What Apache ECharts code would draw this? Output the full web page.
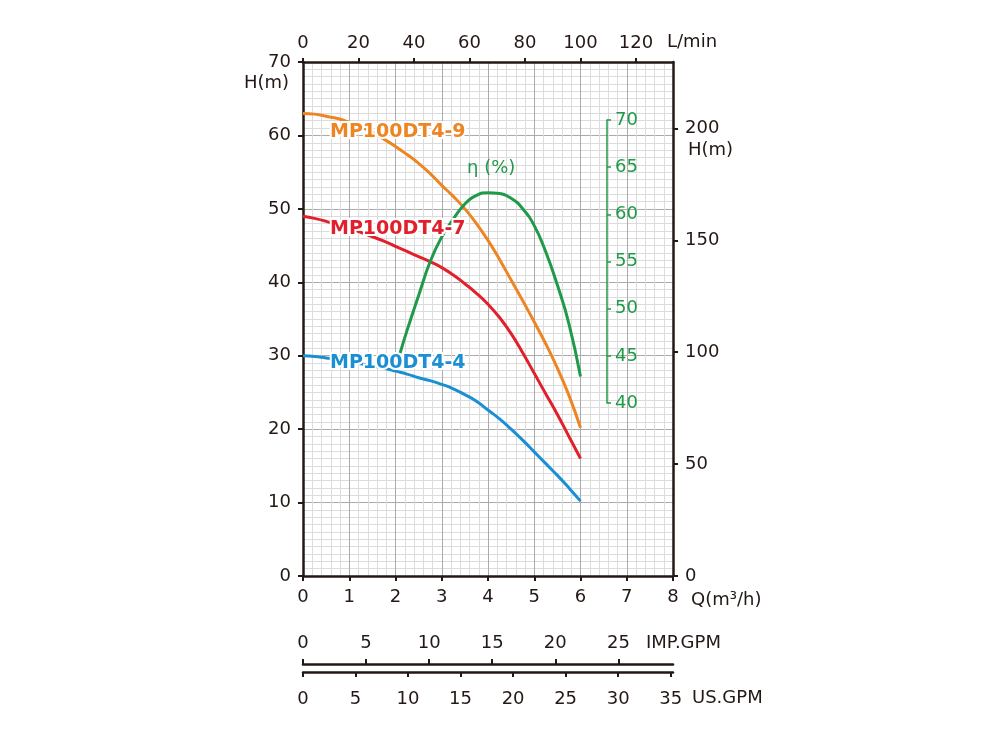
<!DOCTYPE html>
<html>
<head>
<meta charset="utf-8">
<script src="https://cdn.jsdelivr.net/npm/echarts@6/dist/echarts.min.js"></script>
<style>html,body{margin:0;background:#fff}#c{width:1000px;height:742px}</style>
</head>
<body>
<div id="c"></div>
<script>
// Q in m3/h, H in m, efficiency in %
const flow = [0, 0.25, 0.5, 0.75, 1, 1.25, 1.5, 1.75, 2, 2.25, 2.5, 2.75, 3, 3.25, 3.5, 3.75, 4, 4.25, 4.5, 4.75, 5, 5.25, 5.5, 5.75, 6]
const head9 = [63.0, 62.9, 62.6, 62.3, 61.8, 61.2, 60.4, 59.5, 58.5, 57.4, 56.2, 54.8, 53.2, 51.7, 50.0, 48.0, 45.7, 43.1, 40.3, 37.5, 34.6, 31.6, 28.3, 24.6, 20.2]
const head7 = [49.0, 48.7, 48.3, 47.8, 47.3, 46.8, 46.2, 45.6, 44.9, 44.2, 43.5, 42.8, 42.0, 41.0, 39.8, 38.5, 37.0, 35.2, 33.0, 30.4, 27.6, 24.8, 22.0, 19.0, 16.0]
const head4 = [30.0, 29.9, 29.7, 29.5, 29.2, 28.9, 28.6, 28.3, 27.9, 27.5, 27.0, 26.6, 26.1, 25.5, 24.7, 23.8, 22.6, 21.4, 20.0, 18.5, 16.9, 15.3, 13.7, 12.0, 10.2]
const effFlow = [2.1, 2.25, 2.5, 2.75, 3, 3.25, 3.5, 3.75, 4, 4.25, 4.5, 4.75, 5, 5.25, 5.5, 5.75, 6]
const effVal = [45.3, 47.7, 51.4, 55.0, 57.6, 59.5, 61.1, 62.0, 62.3, 62.2, 61.7, 60.6, 58.8, 56.0, 52.5, 48.4, 42.8]
const seriesNames = ["MP100DT4-9", "MP100DT4-7", "MP100DT4-4"]

const qMax = 8, hMax = 70
const lpmMax = qMax * 1000 / 60
const ftMax = hMax * 3.28084
const impMax = qMax / 0.272765
const usMax = qMax / 0.227125

const ink = "#231815", green = "#1f9a48"
const font = "DejaVu Sans"
const lab = { color: ink, fontSize: 18, fontFamily: font }
const pairs = (xs, ys) => xs.map((x, i) => [x, ys[i]])
const axLine = (color, width) => ({ show: true, onZero: false, lineStyle: { color, width } })
const axTick = (color, len) => ({ show: true, length: len, lineStyle: { color, width: 2 } })

const line = (name, data, color) => ({
  name, type: "line", data, smooth: 0.5, symbol: "none",
  xAxisIndex: 0, yAxisIndex: 0,
  lineStyle: { color, width: 3 }
})

const txt = (text, x, y, color, extra) => ({
  type: "text", x, y, z: 100,
  style: Object.assign({ text, fill: color, fontSize: 18, fontFamily: font, textAlign: "left", textVerticalAlign: "middle" }, extra || {})
})
const tag = (text, x, y, color) => txt(text, x, y, color, {
  fontSize: 19, fontWeight: "bold", stroke: "#fff", lineWidth: 4
})

const chart = echarts.init(document.getElementById("c"))
chart.setOption({
  animation: false,
  grid: [
    { left: 303, right: 327, top: 62, bottom: 166 },
    { left: 303, right: 327, top: 120, bottom: 339 },
    { left: 303, right: 327, top: 664, height: 1 },
    { left: 303, right: 327, top: 671, height: 1 }
  ],
  xAxis: [
    { gridIndex: 0, type: "value", position: "bottom", min: 0, max: qMax, interval: 1,
      axisLine: axLine(ink, 2.5), axisTick: axTick(ink, 5),
      axisLabel: Object.assign({ margin: 12 }, lab),
      splitLine: { show: true, lineStyle: { color: "#aaaaaa", width: 1 } },
      minorTick: { show: false, splitNumber: 5 },
      minorSplitLine: { show: true, lineStyle: { color: "#dcdcdc", width: 1 } } },
    { gridIndex: 0, type: "value", position: "top", min: 0, max: lpmMax, interval: 20,
      axisLine: axLine(ink, 2.5), axisTick: axTick(ink, 4),
      axisLabel: Object.assign({ margin: 10, showMaxLabel: false }, lab),
      splitLine: { show: false } },
    { gridIndex: 1, type: "value", min: 0, max: qMax, show: false },
    { gridIndex: 2, type: "value", position: "top", min: 0, max: impMax, interval: 5,
      axisLine: axLine(ink, 2.5), axisTick: axTick(ink, 5),
      axisLabel: Object.assign({ margin: 12, showMaxLabel: false }, lab),
      splitLine: { show: false } },
    { gridIndex: 3, type: "value", position: "bottom", min: 0, max: usMax, interval: 5,
      axisLine: axLine(ink, 2.5), axisTick: axTick(ink, 5),
      axisLabel: Object.assign({ margin: 18, showMaxLabel: false }, lab),
      splitLine: { show: false } }
  ],
  yAxis: [
    { gridIndex: 0, type: "value", position: "left", min: 0, max: hMax, interval: 10,
      axisLine: axLine(ink, 2.5), axisTick: axTick(ink, 5),
      axisLabel: Object.assign({ margin: 12 }, lab),
      splitLine: { show: true, lineStyle: { color: "#aaaaaa", width: 1 } },
      minorTick: { show: false, splitNumber: 10 },
      minorSplitLine: { show: true, lineStyle: { color: "#dcdcdc", width: 1 } } },
    { gridIndex: 0, type: "value", position: "right", min: 0, max: ftMax, interval: 50,
      axisLine: axLine(ink, 2.5), axisTick: axTick(ink, 5),
      axisLabel: Object.assign({ margin: 12, showMaxLabel: false }, lab),
      splitLine: { show: false } },
    { gridIndex: 1, type: "value", position: "right", offset: -66, min: 40, max: 70, interval: 5,
      axisLine: axLine(green, 1.5),
      axisTick: { show: true, length: 4, lineStyle: { color: green, width: 1.5 } },
      axisLabel: { margin: 8, color: green, fontSize: 18, fontFamily: font },
      splitLine: { show: false } },
    { gridIndex: 2, type: "value", show: false },
    { gridIndex: 3, type: "value", show: false }
  ],
  series: [
    line(seriesNames[0], pairs(flow, head9), "#ee8523"),
    line(seriesNames[1], pairs(flow, head7), "#e2202b"),
    line(seriesNames[2], pairs(flow, head4), "#1b8fd3"),
    { name: "η", type: "line", data: pairs(effFlow, effVal), smooth: 0.5, symbol: "none",
      xAxisIndex: 2, yAxisIndex: 2, clip: false, lineStyle: { color: green, width: 3 } }
  ],
  graphic: [
    txt("L/min", 667, 42, ink),
    txt("Q(m³/h)", 691, 600, ink),
    txt("IMP.GPM", 646, 643, ink),
    txt("US.GPM", 692, 698, ink),
    txt("H(m)", 289, 83, ink, { textAlign: "right" }),
    txt("H(m)", 688, 150, ink),
    txt("η (%)", 467, 168, green),
    tag(seriesNames[0], 330, 132, "#ee8523"),
    tag(seriesNames[1], 330, 229, "#e2202b"),
    tag(seriesNames[2], 330, 363, "#1b8fd3")
  ]
})
</script>
</body>
</html>
